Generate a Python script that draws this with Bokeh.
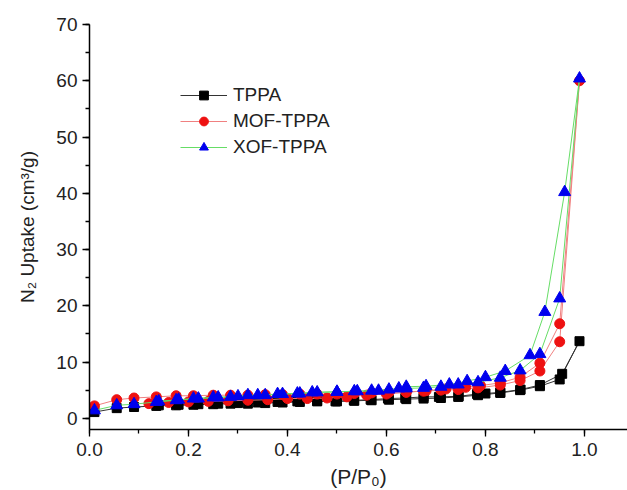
from bokeh.plotting import figure
from bokeh.models import (Range1d, SingleIntervalTicker, NumeralTickFormatter,
                          Legend, LegendItem)
from bokeh.embed import file_html
from bokeh.resources import INLINE

# ---- data (relative pressure P/P0, N2 uptake cm3/g); adsorption then desorption ----
tppa_x = [0.01, 0.055, 0.09, 0.135, 0.175, 0.21, 0.25, 0.285, 0.32, 0.355, 0.39, 0.425,
          0.46, 0.50, 0.535, 0.57, 0.605, 0.64, 0.675, 0.71, 0.745, 0.785, 0.83, 0.87,
          0.91, 0.95, 0.99,
          0.955, 0.91, 0.871, 0.83, 0.80, 0.783, 0.746, 0.706, 0.675, 0.638, 0.603,
          0.568, 0.534, 0.497, 0.46, 0.42, 0.38, 0.34, 0.30, 0.26, 0.22, 0.18, 0.14]
tppa_y = [1.1, 1.8, 2.0, 2.2, 2.3, 2.4, 2.5, 2.6, 2.6, 2.7, 2.8, 2.9,
          3.0, 3.0, 3.1, 3.2, 3.3, 3.4, 3.5, 3.6, 3.8, 4.1, 4.5, 5.0,
          5.7, 6.9, 13.7,
          7.9, 5.9, 5.1, 4.6, 4.4, 4.3, 3.9, 3.8, 3.8, 3.6, 3.5,
          3.3, 3.2, 3.0, 3.1, 3.0, 2.9, 2.8, 2.7, 2.6, 2.5, 2.4, 2.3]

mof_x = [0.01, 0.055, 0.09, 0.135, 0.175, 0.21, 0.25, 0.285, 0.32, 0.355, 0.39, 0.425,
         0.46, 0.50, 0.535, 0.57, 0.605, 0.64, 0.675, 0.71, 0.745, 0.785, 0.83, 0.87,
         0.91, 0.95, 0.99,
         0.95, 0.91, 0.87, 0.83, 0.79, 0.76, 0.72, 0.68, 0.64, 0.60, 0.56, 0.52, 0.48,
         0.44, 0.40, 0.36, 0.32, 0.28, 0.24, 0.20, 0.16, 0.12]
mof_y = [2.2, 3.3, 3.6, 3.8, 4.0, 4.0, 4.1, 4.1, 4.1, 4.2, 4.2, 4.3,
         4.3, 4.3, 4.4, 4.5, 4.6, 4.7, 4.8, 5.0, 5.1, 5.4, 5.9, 6.7,
         8.4, 13.6, 60.0,
         16.8, 9.8, 7.3, 6.3, 5.8, 5.5, 5.2, 4.9, 4.6, 4.3, 4.1, 3.8, 3.6,
         3.5, 3.5, 3.3, 3.2, 3.1, 3.0, 2.9, 2.8, 2.6]

xof_x = [0.01, 0.055, 0.09, 0.135, 0.175, 0.21, 0.25, 0.285, 0.32, 0.355, 0.39, 0.425,
         0.46, 0.50, 0.535, 0.57, 0.605, 0.64, 0.675, 0.71, 0.745, 0.785, 0.83, 0.87,
         0.91, 0.95, 0.99,
         0.96, 0.92, 0.89, 0.84, 0.80, 0.763, 0.727, 0.68, 0.64, 0.625, 0.584, 0.541,
         0.50, 0.45, 0.42, 0.38, 0.34, 0.30, 0.26, 0.22, 0.18, 0.14]
xof_y = [1.4, 2.3, 2.5, 2.9, 3.2, 3.5, 3.7, 3.8, 4.1, 4.1, 4.3, 4.4,
         4.6, 4.7, 4.8, 4.9, 5.1, 5.3, 5.4, 5.6, 6.0, 6.4, 7.2, 8.5,
         11.4, 21.3, 60.4,
         40.2, 18.9, 11.2, 8.4, 7.3, 6.6, 6.0, 5.7, 5.6, 5.3, 4.9, 4.8,
         4.7, 4.6, 4.4, 4.3, 4.1, 3.9, 3.7, 3.5, 3.3, 3.0]

labels = ["TPPA", "MOF-TPPA", "XOF-TPPA"]

FONT = "Liberation Sans"

p = figure(width=627, height=490, output_backend="svg", toolbar_location=None,
           x_range=Range1d(0, 1.087), y_range=Range1d(-2, 70),
           min_border_left=89, min_border_right=0, min_border_top=24,
           min_border_bottom=61)
p.outline_line_color = None
p.grid.visible = False
p.background_fill_color = "white"
p.border_fill_color = "white"

p.xaxis.ticker = SingleIntervalTicker(interval=0.2, num_minor_ticks=2)
p.yaxis.ticker = SingleIntervalTicker(interval=10, num_minor_ticks=2)
p.xaxis.formatter = NumeralTickFormatter(format="0.0")
p.xaxis.axis_label = "(P/P\u2080)"
p.yaxis.axis_label = "N\u2082 Uptake (cm\u00b3/g)"

for ax in (p.xaxis, p.yaxis):
    ax.axis_line_color = "black"
    ax.axis_line_width = 1.5
    ax.major_tick_line_color = "black"
    ax.minor_tick_line_color = "black"
    ax.major_tick_line_width = 1.3
    ax.minor_tick_line_width = 1.3
    ax.major_tick_out = 7
    ax.major_tick_in = 0
    ax.minor_tick_out = 4
    ax.minor_tick_in = 0
    ax.major_label_text_font = FONT
    ax.major_label_text_font_size = "19px"
    ax.major_label_text_color = "#222222"
    ax.axis_label_text_font = FONT
    ax.axis_label_text_font_size = "19px"
    ax.axis_label_text_font_style = "normal"
    ax.axis_label_text_color = "#222222"
p.xaxis.axis_label_text_font_size = "21px"
p.xaxis.major_label_standoff = 6
p.yaxis.major_label_standoff = 5
p.xaxis.axis_label_standoff = 6
p.yaxis.axis_label_standoff = 15

l1 = p.line(tppa_x, tppa_y, line_color="#333333", line_width=1)
s1 = p.scatter(tppa_x, tppa_y, marker="square", size=9, fill_color="black",
               line_color="black")
l2 = p.line(mof_x, mof_y, line_color="#f08080", line_width=1)
s2 = p.scatter(mof_x, mof_y, marker="circle", size=10, fill_color="#ee1111",
               line_color="#ee1111")
l3 = p.line(xof_x, xof_y, line_color="#66dd66", line_width=1)
s3 = p.scatter(xof_x, xof_y, marker="triangle", size=12, fill_color="#0000ee",
               line_color="#0000ee")

legend = Legend(items=[LegendItem(label=labels[0], renderers=[l1, s1]),
                       LegendItem(label=labels[1], renderers=[l2, s2]),
                       LegendItem(label=labels[2], renderers=[l3, s3])],
                location=(91, 271))
legend.border_line_color = None
legend.background_fill_alpha = 0
legend.padding = 0
legend.margin = 0
legend.spacing = 4
legend.glyph_width = 47
legend.glyph_height = 22
legend.label_height = 22
legend.label_standoff = 6
legend.label_text_font = FONT
legend.label_text_font_size = "19px"
legend.label_text_color = "#222222"
p.add_layout(legend, "center")

open("out.html", "w").write(file_html(p, INLINE))
